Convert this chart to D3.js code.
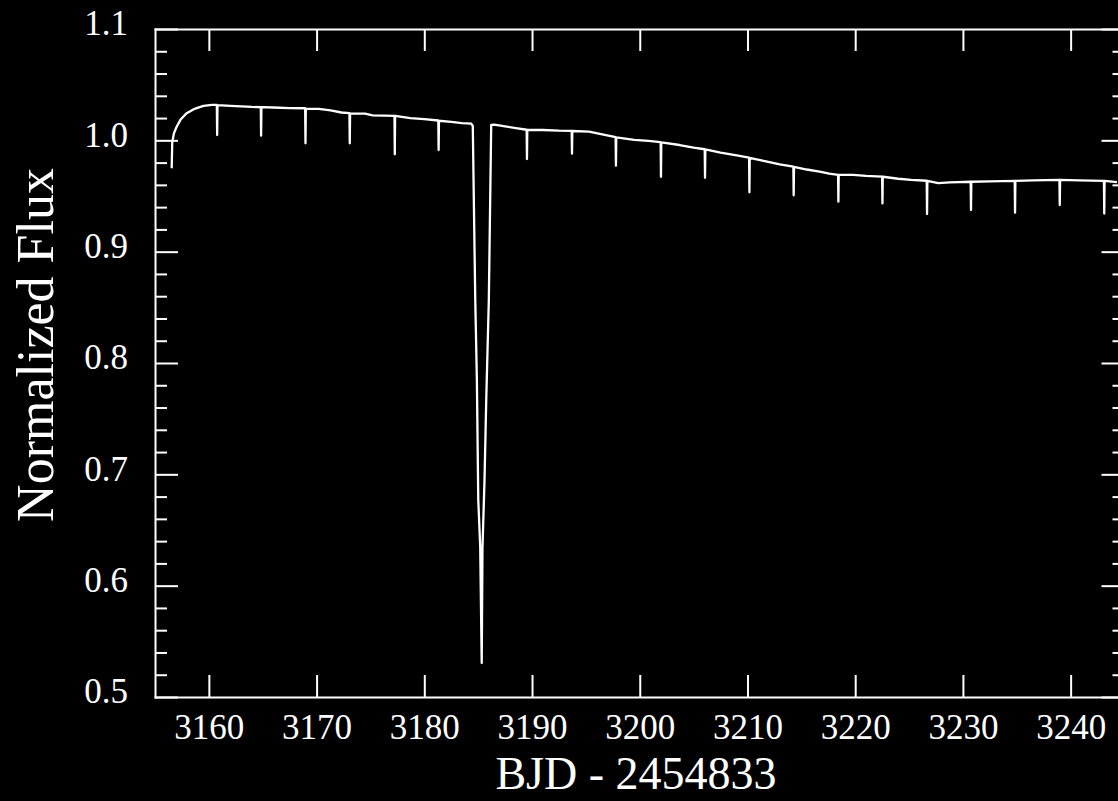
<!DOCTYPE html>
<html>
<head>
<meta charset="utf-8">
<script src="https://cdn.jsdelivr.net/npm/d3@7"></script>
<style>
  html, body { margin: 0; padding: 0; background: #000; overflow: hidden; }
  svg { display: block; }
</style>
</head>
<body>
<div id="chart"></div>
<script>
// Light curve (time in BJD - 2454833, normalized flux)
const bjd = [
    3156.55, 3156.60, 3156.75, 3157.00, 3157.40, 3157.90, 3158.60, 3159.50, 3160.30,
    3160.74, 3160.77, 3160.80, 3162.00, 3163.00, 3164.00,
    3164.82, 3164.85, 3164.88, 3166.00, 3167.50,
    3168.94, 3168.97, 3169.00, 3170.20, 3171.30, 3172.30,
    3173.05, 3173.08, 3173.11, 3174.50, 3175.20, 3176.30,
    3177.23, 3177.26, 3177.29, 3178.70, 3180.00,
    3181.30, 3181.33, 3181.36, 3182.50, 3183.50,
    3184.35, 3184.50, 3184.73, 3184.88, 3185.01, 3185.19, 3185.33, 3185.40,
    3185.59, 3185.75, 3185.99, 3186.21, 3186.50, 3187.50, 3188.50,
    3189.50, 3189.53, 3189.56, 3191.00, 3192.50,
    3193.68, 3193.71, 3193.74, 3195.30, 3196.30,
    3197.76, 3197.79, 3197.82, 3199.50, 3200.80,
    3201.94, 3201.97, 3202.00, 3203.70, 3205.00,
    3206.03, 3206.06, 3206.09, 3207.50, 3209.00,
    3210.15, 3210.18, 3210.21, 3211.50, 3213.00,
    3214.26, 3214.29, 3214.32, 3215.50, 3216.70, 3217.60,
    3218.41, 3218.44, 3218.47, 3219.80, 3221.00,
    3222.50, 3222.53, 3222.56, 3224.00, 3225.20,
    3226.64, 3226.67, 3226.70, 3227.70, 3228.80,
    3230.72, 3230.75, 3230.78, 3232.50,
    3234.81, 3234.84, 3234.87, 3236.50,
    3238.96, 3238.99, 3239.02, 3240.80,
    3243.09, 3243.12, 3243.15, 3244.30
];
const flux = [
    0.975, 0.998, 1.006, 1.012, 1.019, 1.024, 1.028, 1.031, 1.0318,
    1.0318, 1.0048, 1.0316, 1.0310, 1.0305, 1.0300,
    1.0298, 1.0042, 1.0298, 1.0295, 1.0290,
    1.0288, 0.9973, 1.0285, 1.0283, 1.0270, 1.0250,
    1.0245, 0.9973, 1.0243, 1.0240, 1.0225, 1.0222,
    1.0220, 0.9875, 1.0219, 1.0200, 1.0190,
    1.0178, 0.9913, 1.0176, 1.0165, 1.0155,
    1.0150, 1.0129, 0.8570, 0.7850, 0.6770, 0.6350, 0.5305, 0.6340,
    0.6950, 0.7670, 0.8570, 1.0138, 1.0142, 1.0125, 1.0110,
    1.0095, 0.9832, 1.0093, 1.0093, 1.0087,
    1.0085, 0.9880, 1.0084, 1.0078, 1.0058,
    1.0028, 0.9772, 1.0027, 1.0005, 0.9995,
    0.9983, 0.9673, 0.9982, 0.9958, 0.9935,
    0.9920, 0.9664, 0.9918, 0.9890, 0.9865,
    0.9845, 0.9533, 0.9843, 0.9815, 0.9785,
    0.9764, 0.9506, 0.9762, 0.9738, 0.9718, 0.9700,
    0.9690, 0.9449, 0.9689, 0.9689, 0.9680,
    0.9674, 0.9433, 0.9673, 0.9655, 0.9645,
    0.9637, 0.9338, 0.9636, 0.9615, 0.9622,
    0.9628, 0.9374, 0.9628, 0.9632,
    0.9635, 0.9350, 0.9635, 0.9640,
    0.9644, 0.9419, 0.9644, 0.9640,
    0.9635, 0.9343, 0.9635, 0.9625
];

const xDomain = [3155, 3245];
const yDomain = [0.5, 1.1];
const xTicks = [3160, 3170, 3180, 3190, 3200, 3210, 3220, 3230, 3240];
const yTicks = [0.5, 0.6, 0.7, 0.8, 0.9, 1.0, 1.1];

const FONT = '"Liberation Serif", "Times New Roman", serif';

renderLightCurve('#chart');

function renderLightCurve(containerSelector) {
    const container = d3.select(containerSelector);
    container.html('');

    // plot box; right edge sits a few px past the window, like the original
    const margin = { top: 29, right: -6.5, bottom: 104, left: 155 };
    const width = 1118 - margin.left - margin.right;
    const height = 801 - margin.top - margin.bottom;

    const root = container.append('svg')
        .attr('width', 1118)
        .attr('height', 801)
        .style('background', '#000');

    const svg = root.append('g')
        .attr('transform', `translate(${margin.left},${margin.top})`);

    const xScale = d3.scaleLinear().domain(xDomain).range([0, width]);
    const yScale = d3.scaleLinear().domain(yDomain).range([height, 0]);

    drawAxes(svg, xScale, yScale, width, height);
    drawCurve(root, svg, xScale, yScale, width, height);
    drawTitles(root);
}

function styleAxis(g) {
    g.select('.domain')
        .attr('stroke', '#fff')
        .attr('stroke-width', 2)
        .attr('stroke-linecap', 'square');
    g.selectAll('.tick line')
        .attr('stroke', '#fff')
        .attr('stroke-width', 2);
    g.selectAll('.tick text')
        .attr('fill', '#fff')
        .attr('font-family', FONT)
        .attr('font-size', 35);
}

function drawAxes(svg, xScale, yScale, width, height) {
    const minor = d3.range(0.52, 1.1, 0.02)
        .map(v => Math.round(v * 100) / 100)
        .filter(v => Math.round(v * 100) % 10 !== 0);

    // bottom, with labels
    svg.append('g')
        .attr('transform', `translate(0,${height})`)
        .call(d3.axisBottom(xScale)
            .tickValues(xTicks)
            .tickSizeInner(-22)
            .tickSizeOuter(0)
            .tickPadding(17)
            .tickFormat(d3.format('d')))
        .call(styleAxis);

    // top, ticks only
    svg.append('g')
        .call(d3.axisTop(xScale)
            .tickValues(xTicks)
            .tickSizeInner(-22)
            .tickSizeOuter(0)
            .tickFormat(''))
        .call(styleAxis);

    // left, with labels
    const left = svg.append('g')
        .call(d3.axisLeft(yScale)
            .tickValues(yTicks)
            .tickSizeInner(-23)
            .tickSizeOuter(0)
            .tickPadding(27)
            .tickFormat(d3.format('.1f')))
        .call(styleAxis);
    left.selectAll('.tick text').attr('dy', '0.17em');

    svg.append('g')
        .call(d3.axisLeft(yScale).tickValues(minor).tickSizeInner(-12).tickSizeOuter(0).tickFormat(''))
        .call(styleAxis)
        .select('.domain').remove();

    // right, ticks only
    svg.append('g')
        .attr('transform', `translate(${width},0)`)
        .call(d3.axisRight(yScale).tickValues(yTicks).tickSizeInner(-23).tickSizeOuter(0).tickFormat(''))
        .call(styleAxis);

    svg.append('g')
        .attr('transform', `translate(${width},0)`)
        .call(d3.axisRight(yScale).tickValues(minor).tickSizeInner(-12).tickSizeOuter(0).tickFormat(''))
        .call(styleAxis)
        .select('.domain').remove();
}

function drawCurve(root, svg, xScale, yScale, width, height) {
    root.append('defs').append('clipPath')
        .attr('id', 'plot-clip')
        .append('rect')
        .attr('width', width)
        .attr('height', height);

    const points = bjd.map((t, i) => [t, flux[i]]);

    const line = d3.line()
        .x(d => xScale(d[0]))
        .y(d => yScale(d[1]));

    svg.append('path')
        .datum(points)
        .attr('clip-path', 'url(#plot-clip)')
        .attr('d', line)
        .attr('fill', 'none')
        .attr('stroke', '#fff')
        .attr('stroke-width', 2.3)
        .attr('stroke-linejoin', 'round');
}

function drawTitles(root) {
    root.append('text')
        .attr('x', 636)
        .attr('y', 789)
        .attr('text-anchor', 'middle')
        .attr('fill', '#fff')
        .attr('font-family', FONT)
        .attr('font-size', 46)
        .text('BJD - 2454833');

    root.append('text')
        .attr('transform', 'translate(53,345) rotate(-90)')
        .attr('text-anchor', 'middle')
        .attr('fill', '#fff')
        .attr('font-family', FONT)
        .attr('font-size', 52)
        .text('Normalized Flux');
}
</script>
</body>
</html>
